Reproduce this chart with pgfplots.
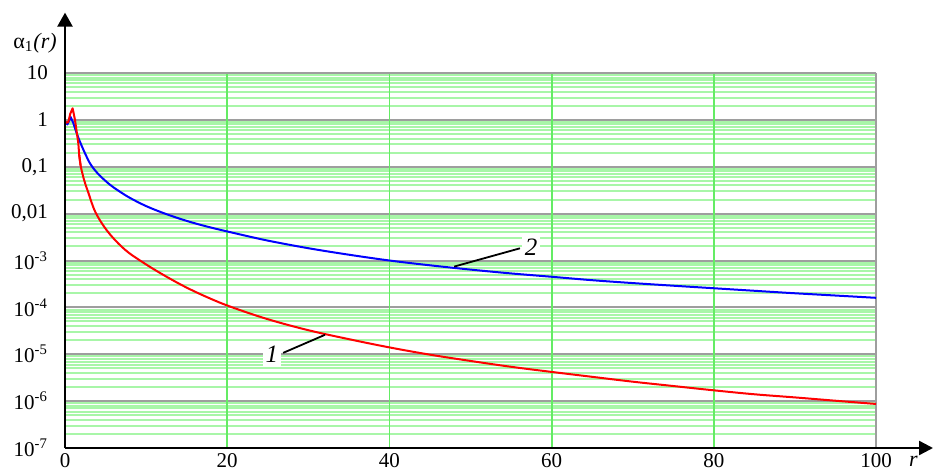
\documentclass[border=0pt]{standalone}
\usepackage{fontspec}
\setmainfont{Liberation Serif}
\usepackage{pgfplots}
\pgfplotsset{compat=1.18}
\usetikzlibrary{arrows.meta}
\definecolor{mingrid}{RGB}{168,246,168}
\definecolor{xgrid}{RGB}{100,236,100}
\definecolor{ygrid}{RGB}{158,158,158}
\definecolor{cred}{RGB}{255,0,0}
\definecolor{cblue}{RGB}{0,0,255}
\begin{document}
\begin{tikzpicture}
\useasboundingbox (-32.5pt,-11.5pt) rectangle (434pt,224pt);
\begin{axis}[
  at={(0,0)}, anchor=south west, scale only axis,
  width=405.5pt, height=187.5pt,
  ymode=log, xmin=0, xmax=100, ymin=1e-7, ymax=10,
  clip=false,
  axis line style={draw=none},
  xtick={0,20,40,60,80,100},
  xticklabels={0,20,40,60,80,100},
  ytick={1e-7,1e-6,1e-5,1e-4,1e-3,1e-2,1e-1,1,10},
  yticklabels={10\textsuperscript{-7},10\textsuperscript{-6},10\textsuperscript{-5},10\textsuperscript{-4},10\textsuperscript{-3},{0,01},{0,1},1,10},
  major tick length=0pt, minor tick length=0pt,
  xmajorgrids=false, ymajorgrids=true, yminorgrids=true,
  minor y grid style={draw=mingrid, line width=1pt},
  major y grid style={draw=ygrid, line width=1pt},
  yticklabel style={font=\fontsize{10.5}{12}\selectfont, xshift=-5pt},
  xticklabel style={font=\fontsize{10.5}{12}\selectfont, inner sep=1pt, yshift=-1.5pt},
]
% vertical grid lines
\draw[xgrid, line width=0.9pt] (axis cs:20,1e-7) -- (axis cs:20,10);
\draw[xgrid, line width=0.9pt] (axis cs:40,1e-7) -- (axis cs:40,10);
\draw[xgrid, line width=0.9pt] (axis cs:60,1e-7) -- (axis cs:60,10);
\draw[xgrid, line width=0.9pt] (axis cs:80,1e-7) -- (axis cs:80,10);
\draw[ygrid, line width=1pt] (rel axis cs:1,0) -- (rel axis cs:1,1);
\draw[ygrid, line width=1pt] (rel axis cs:0,1) -- (rel axis cs:1,1);

% curve 2 (blue)
\addplot[cblue, line width=1pt, line join=round] coordinates {
(0,0.92) (0.3,0.8) (0.7,1.15) (1.03,0.85)
};
\addplot[cblue, line width=1pt, smooth, tension=0.6] coordinates {
(1.03,0.85) (1.44,0.52) (1.85,0.34)
(2.47,0.193) (3.08,0.118) (3.49,0.093) (4.32,0.064) (5.5,0.042) (6.57,0.031)
(8,0.0217) (10,0.0145) (12.33,0.01) (15,0.0070) (17.7,0.0052) (21,0.0038)
(25,0.00266) (30,0.00183) (35,0.00133) (40,0.001) (45,0.00079) (50,0.00064)
(55,0.00053) (60,0.00045) (65,0.00038) (70,0.00033) (75,0.00029) (80,0.000256)
(85,0.000226) (90,0.000200) (95,0.000179) (100,0.00016)
};
% curve 1 (red)
\addplot[cred, line width=1pt, line join=round] coordinates {
(0,0.95) (0.2,0.87) (0.4,0.9) (0.65,1.35) (0.94,1.77) (1.23,1.0) (1.64,0.32)
(1.75,0.18) (1.93,0.105)
};
\addplot[cred, line width=1pt, smooth, tension=0.6] coordinates {
(1.75,0.18) (1.93,0.105) (2.2,0.066) (2.47,0.045) (2.88,0.028) (3.78,0.0105)
(5.34,0.004) (7.4,0.0017) (9.45,0.00095) (11.9,0.00052) (14.8,0.000275)
(17.7,0.00016) (20.5,0.000102) (25,0.000056) (30,0.0000326)
(35,0.000021) (40,0.000014) (45,0.0000098) (50,0.0000072) (55,0.0000054)
(60,0.0000042) (65,0.0000033) (70,0.0000026) (75,0.0000021) (80,0.0000017)
(85,0.0000014) (90,0.0000012) (95,0.00000102) (100,0.00000087)
};

% axes with arrows
\draw[black, line width=1.2pt, -{Triangle[length=7pt, width=7.5pt]}]
  (rel axis cs:0,0) -- (rel axis cs:0,1.161);
\draw[black, line width=1.2pt, -{Triangle[length=7pt, width=7pt]}]
  (rel axis cs:0,0) -- (rel axis cs:1.0703,0);

% axis labels
\node[font=\fontsize{11}{13}\selectfont] at (rel axis cs:-0.037,1.08) {α\textsubscript{1}\textit{(r)}};
\node[font=\fontsize{11}{13}\selectfont\itshape] at (rel axis cs:1.046,-0.035) {r};

% annotations
\draw[black, line width=0.9pt] (axis cs:47.97,7.4e-4) -- (axis cs:56.1,1.82e-3);
\node[anchor=west, fill=white, inner sep=1.5pt, font=\fontsize{12.5}{14}\selectfont\itshape] at (axis cs:56.3,1.95e-3) {2};
\draw[black, line width=0.9pt] (axis cs:32.06,2.6e-5) -- (axis cs:26.9,1.07e-5);
\node[anchor=east, fill=white, inner sep=1.5pt, font=\fontsize{12.5}{14}\selectfont\itshape] at (axis cs:26.7,1.0e-5) {1};
\end{axis}
\end{tikzpicture}
\end{document}
